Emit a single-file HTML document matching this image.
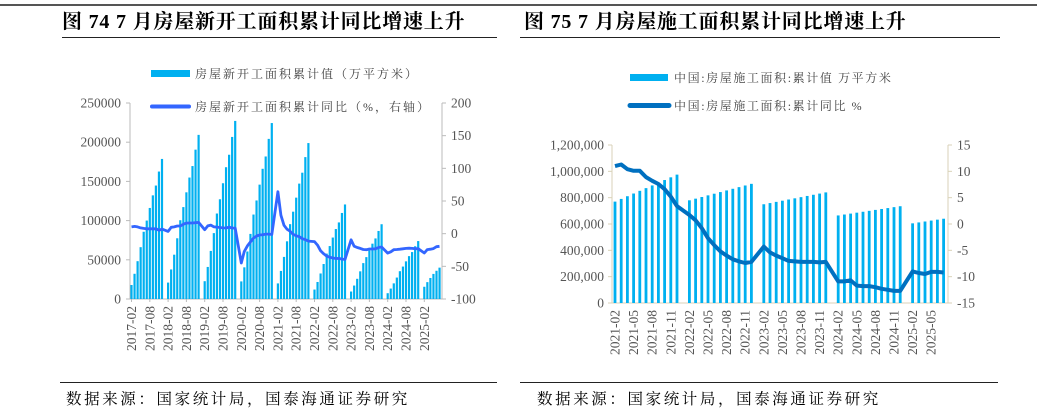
<!DOCTYPE html>
<html><head><meta charset="utf-8"><style>
body{margin:0;background:#fff;width:1037px;height:412px;overflow:hidden}
svg{display:block}
text{font-family:"Liberation Serif","Noto Serif CJK SC",serif}
</style></head><body>
<svg id="s" width="1037" height="412" xmlns="http://www.w3.org/2000/svg">
<rect x="0" y="4" width="1037" height="2" fill="#555"/>
<text x="62" y="28" font-size="20" font-weight="bold" fill="#000" letter-spacing="0.8">图 74 7 月房屋新开工面积累计同比增速上升</text>
<line x1="62" y1="37.5" x2="497" y2="37.5" stroke="#222" stroke-width="1"/>
<text x="524" y="28" font-size="20" font-weight="bold" fill="#000" letter-spacing="0.8">图 75 7 月房屋施工面积累计同比增速上升</text>
<line x1="520" y1="37.5" x2="1000" y2="37.5" stroke="#222" stroke-width="1"/>
<line x1="60" y1="382.5" x2="497" y2="382.5" stroke="#222" stroke-width="1"/>
<line x1="520" y1="382.5" x2="998" y2="382.5" stroke="#222" stroke-width="1"/>
<text x="66" y="404" font-size="15.5" fill="#000" letter-spacing="2.6">数据来源：国家统计局，国泰海通证券研究</text>
<text x="537" y="404" font-size="15.5" fill="#000" letter-spacing="2.6">数据来源：国家统计局，国泰海通证券研究</text>
<rect x="151" y="70" width="39" height="7" fill="#00b0f0"/>
<text x="195" y="78" font-size="12" fill="#444" letter-spacing="2">房屋新开工面积累计值（万平方米）</text>
<line x1="152" y1="106.5" x2="189" y2="106.5" stroke="#3366ff" stroke-width="4" stroke-linecap="round"/>
<text x="195" y="111" font-size="12" fill="#444" letter-spacing="2">房屋新开工面积累计同比（%，右轴）</text>
<rect x="630" y="74" width="38" height="7" fill="#00b0f0"/>
<text x="674" y="82" font-size="12" fill="#444" letter-spacing="1.6">中国:房屋施工面积:累计值 万平方米</text>
<line x1="630" y1="105.5" x2="669" y2="105.5" stroke="#0070c0" stroke-width="5" stroke-linecap="round"/>
<text x="674" y="110" font-size="12" fill="#444" letter-spacing="1.6">中国:房屋施工面积:累计同比 %</text>
<g id="c1"></g><g id="c2"></g>
</svg>
<script>
var NS="http://www.w3.org/2000/svg";
function el(p,t,a,txt){var e=document.createElementNS(NS,t);for(var k in a)e.setAttribute(k,a[k]);if(txt!==undefined)e.textContent=txt;p.appendChild(e);return e;}
var FS=13.5;
var g=document.getElementById('c1');
var X0=130,XR=442,Y0=299,YT=103,dx=3.05;
var peaks=[178654,209342,227154,224433,198895,120587,95376,73893];
var fr=[0.1,0.18,0.27,0.37,0.48,0.56,0.65,0.74,0.81,0.91,1];
var yoy=[[10.4,11.1,10.4,8.9,8.0,7.4,7.5,7.5,7.5,5.2,7.0],
[3.4,9.7,10.3,11.8,11.8,14.4,16.1,16.4,16.3,16.8,17.2],
[6,11.9,13.1,10.5,10.1,9.5,8.9,8.6,10,8.6,8.5],
[-44.9,-27.2,-18.8,-12.8,-6.8,-3.6,-1.9,-1.8,-0.6,-0.6,-1.2],
[64.3,28.2,12.8,6.9,3.8,-0.9,-3.2,-4.5,-7.7,-9.1,-11.4],
[-12.2,-17.5,-26.3,-30.6,-34.4,-36.1,-37.2,-38,-37.8,-38.9,-39.4],
[-9.4,-19.2,-21.2,-22.6,-24.3,-24.5,-23.4,-23.4,-23.2,-21.2,-20.4],
[-29.7,-27.8,-24.6,-24.2,-23.7,-23.2,-22.5,-22.2,-22.6,-23,-23],
[-29.6,-24.4,-23.8,-22.8,-20,-19.4]];
function yl(v){return Y0-v/250000*(Y0-YT);}
function yr(v){return Y0-(v+100)/300*(Y0-YT);}
el(g,'line',{x1:X0,y1:YT,x2:X0,y2:Y0,stroke:'#bbb'});
el(g,'line',{x1:X0,y1:Y0,x2:XR,y2:Y0,stroke:'#bbb'});
el(g,'line',{x1:XR,y1:YT,x2:XR,y2:Y0,stroke:'#bbb'});
for(var i=0;i<=5;i++){var v=i*50000,y=yl(v);el(g,'line',{x1:X0-4,y1:y,x2:X0,y2:y,stroke:'#bbb'});el(g,'text',{x:X0-9,y:y+4.5,'font-size':FS,'text-anchor':'end',fill:'#555'},v);}
for(var i=0;i<=6;i++){var v=-100+i*50,y=yr(v);el(g,'line',{x1:XR,y1:y,x2:XR+4,y2:y,stroke:'#bbb'});el(g,'text',{x:XR+9,y:y+4.5,'font-size':FS,fill:'#555'},v);}
var pts=[];
for(var yi=0;yi<9;yi++){for(var m=2;m<=12;m++){if(yi==8&&m>7)break;var idx=yi*12+(m-2);var x=X0+1.5+idx*dx;
 var val=yi<8?peaks[yi]*fr[m-2]:[15600,21500,26800,32000,36000,40000][m-2];
 el(g,'rect',{x:x-1.1,y:yl(val),width:2.2,height:Y0-yl(val),fill:'#00b0f0'});
 pts.push(x.toFixed(1)+','+yr(yoy[yi][m-2]).toFixed(1));}}
el(g,'polyline',{points:pts.join(' '),fill:'none',stroke:'#3366ff','stroke-width':2.8,'stroke-linejoin':'round'});
var labs=[];for(var yy=2017;yy<=2025;yy++){labs.push(yy+'-02');if(yy<2025)labs.push(yy+'-08');}
labs.forEach(function(l,i){var x=X0+1.5+i*6*dx;el(g,'line',{x1:x,y1:Y0,x2:x,y2:Y0+3,stroke:'#bbb'});el(g,'text',{x:0,y:0,'font-size':FS,fill:'#555','text-anchor':'end',transform:'translate('+(x+4.5)+','+(Y0+7)+') rotate(-90)'},l);});
var h=document.getElementById('c2');
var A=612,B=948,T=145,Bt=303,d2=6.2;
function y2(v){return Bt-v/1200000*(Bt-T);}
function r2(v){return Bt-(v+15)/30*(Bt-T);}
el(h,'line',{x1:A,y1:T,x2:A,y2:Bt,stroke:'#d9d2b8'});
el(h,'line',{x1:A,y1:Bt,x2:B,y2:Bt,stroke:'#d9d2b8'});
el(h,'line',{x1:B,y1:T,x2:B,y2:Bt,stroke:'#d9d2b8'});
for(var i=0;i<=6;i++){var v=i*200000,y=y2(v);el(h,'line',{x1:A-4,y1:y,x2:A,y2:y,stroke:'#d9d2b8'});el(h,'text',{x:A-8,y:y+4.5,'font-size':FS,'text-anchor':'end',fill:'#555'},v.toLocaleString('en-US'));}
for(var i=0;i<=6;i++){var v=-15+i*5,y=r2(v);el(h,'line',{x1:B,y1:y,x2:B+4,y2:y,stroke:'#d9d2b8'});el(h,'text',{x:B+9,y:y+4.5,'font-size':FS,fill:'#555'},v);}
var rng=[[770000,975000],[780000,905000],[750000,840000],[665000,735000],[605000,640000]];
var ln=[[11,11.3,10.4,10.1,10.1,8.9,8.2,7.6,6.6,5.2,3.4],
[1.7,0.7,-0.8,-2.7,-4,-5.2,-6,-6.7,-7.1,-7.4,-7.2],
[-4.3,-5.4,-6,-6.5,-7,-7.1,-7.2,-7.2,-7.2,-7.3,-7.2],
[-10.9,-10.9,-10.7,-11.7,-11.8,-11.8,-12,-12.3,-12.5,-12.7,-12.7],
[-9,-9.3,-9.5,-9.1,-9.1,-9.2]];
var p2=[];
for(var yi=0;yi<5;yi++){var n=yi<4?11:6;for(var k=0;k<n;k++){var idx=yi*12+k;var x=A+3+idx*d2;var v=rng[yi][0]+(rng[yi][1]-rng[yi][0])*k/(n-1);
 el(h,'rect',{x:x-1.4,y:y2(v),width:2.8,height:Bt-y2(v),fill:'#00b0f0'});
 p2.push(x.toFixed(1)+','+r2(ln[yi][k]).toFixed(1));}}
el(h,'polyline',{points:p2.join(' '),fill:'none',stroke:'#0070c0','stroke-width':4,'stroke-linejoin':'round'});
var l2=[];for(var yy=2021;yy<=2025;yy++){['02','05','08','11'].forEach(function(m){if(yy==2025&&(m=='08'||m=='11'))return;l2.push(yy+'-'+m);});}
l2.forEach(function(l,i){var x=A+3+i*3*d2;el(h,'text',{x:0,y:0,'font-size':FS,fill:'#555','text-anchor':'end',transform:'translate('+(x+4.5)+','+(Bt+7)+') rotate(-90)'},l);});
</script>
</body></html>
